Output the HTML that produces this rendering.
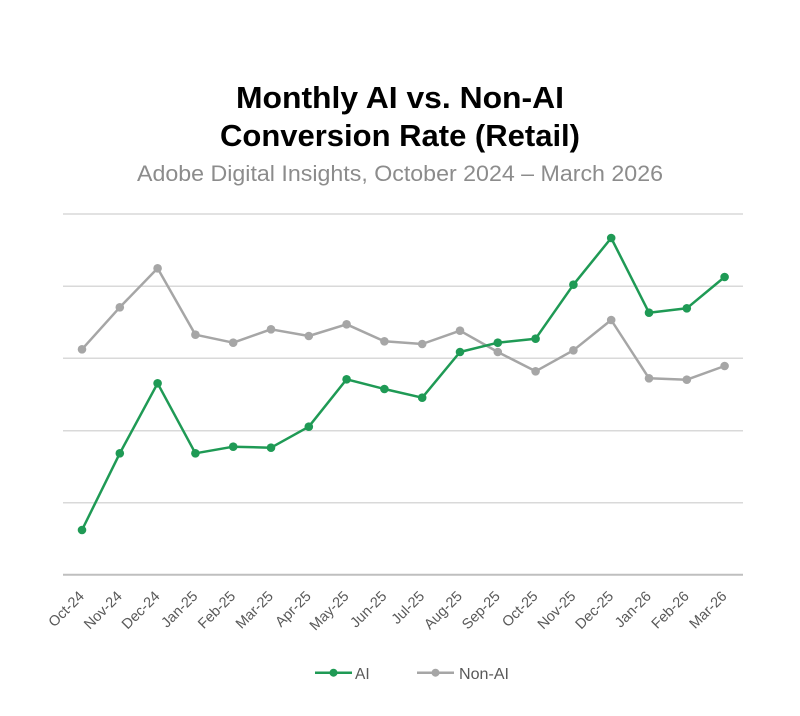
<!DOCTYPE html>
<html>
<head>
<meta charset="utf-8">
<style>
  html,body{margin:0;padding:0;background:#fff;}
  svg{display:block;}
  text{font-family:"Liberation Sans", sans-serif;}
</style>
</head>
<body>
<svg width="800" height="716" viewBox="0 0 800 716" xmlns="http://www.w3.org/2000/svg">
  <rect width="800" height="716" fill="#fff"/>
  <!-- Title -->
  <text x="400" y="108" text-anchor="middle" font-size="31" font-weight="bold" fill="#000" textLength="328" lengthAdjust="spacingAndGlyphs">Monthly AI vs. Non-AI</text>
  <text x="400" y="146" text-anchor="middle" font-size="31" font-weight="bold" fill="#000" textLength="360" lengthAdjust="spacingAndGlyphs">Conversion Rate (Retail)</text>
  <text x="400" y="181" text-anchor="middle" font-size="22" fill="#8c8c8c" textLength="526" lengthAdjust="spacingAndGlyphs">Adobe Digital Insights, October 2024 – March 2026</text>

  <!-- Gridlines -->
  <g stroke="#d9d9d9" stroke-width="1.5">
    <line x1="63" y1="214" x2="743" y2="214"/>
    <line x1="63" y1="286.3" x2="743" y2="286.3"/>
    <line x1="63" y1="358.3" x2="743" y2="358.3"/>
    <line x1="63" y1="430.7" x2="743" y2="430.7"/>
    <line x1="63" y1="502.7" x2="743" y2="502.7"/>
  </g>
  <line x1="63" y1="574.7" x2="743" y2="574.7" stroke="#bfbfbf" stroke-width="2"/>

  <!-- Non-AI series -->
  <polyline fill="none" stroke="#a6a6a6" stroke-width="2.5" stroke-linejoin="round"
    points="82,349.3 119.8,307.3 157.6,268.3 195.4,334.7 233.2,342.7 271,329.3 308.8,336 346.6,324.3 384.4,341.3 422.2,344 460,330.7 497.8,352 535.6,371.3 573.4,350.3 611.2,320 649,378.3 686.8,379.7 724.6,366"/>
  <g fill="#a6a6a6">
    <circle cx="82" cy="349.3" r="4.3"/><circle cx="119.8" cy="307.3" r="4.3"/><circle cx="157.6" cy="268.3" r="4.3"/>
    <circle cx="195.4" cy="334.7" r="4.3"/><circle cx="233.2" cy="342.7" r="4.3"/><circle cx="271" cy="329.3" r="4.3"/>
    <circle cx="308.8" cy="336" r="4.3"/><circle cx="346.6" cy="324.3" r="4.3"/><circle cx="384.4" cy="341.3" r="4.3"/>
    <circle cx="422.2" cy="344" r="4.3"/><circle cx="460" cy="330.7" r="4.3"/><circle cx="497.8" cy="352" r="4.3"/>
    <circle cx="535.6" cy="371.3" r="4.3"/><circle cx="573.4" cy="350.3" r="4.3"/><circle cx="611.2" cy="320" r="4.3"/>
    <circle cx="649" cy="378.3" r="4.3"/><circle cx="686.8" cy="379.7" r="4.3"/><circle cx="724.6" cy="366" r="4.3"/>
  </g>

  <!-- AI series -->
  <polyline fill="none" stroke="#1f9a55" stroke-width="2.5" stroke-linejoin="round"
    points="82,530 119.8,453.3 157.6,383.3 195.4,453.3 233.2,446.7 271,447.7 308.8,426.7 346.6,379.3 384.4,389 422.2,397.7 460,352 497.8,342.7 535.6,338.7 573.4,284.7 611.2,238 649,312.7 686.8,308.3 724.6,277"/>
  <g fill="#1f9a55">
    <circle cx="82" cy="530" r="4.3"/><circle cx="119.8" cy="453.3" r="4.3"/><circle cx="157.6" cy="383.3" r="4.3"/>
    <circle cx="195.4" cy="453.3" r="4.3"/><circle cx="233.2" cy="446.7" r="4.3"/><circle cx="271" cy="447.7" r="4.3"/>
    <circle cx="308.8" cy="426.7" r="4.3"/><circle cx="346.6" cy="379.3" r="4.3"/><circle cx="384.4" cy="389" r="4.3"/>
    <circle cx="422.2" cy="397.7" r="4.3"/><circle cx="460" cy="352" r="4.3"/><circle cx="497.8" cy="342.7" r="4.3"/>
    <circle cx="535.6" cy="338.7" r="4.3"/><circle cx="573.4" cy="284.7" r="4.3"/><circle cx="611.2" cy="238" r="4.3"/>
    <circle cx="649" cy="312.7" r="4.3"/><circle cx="686.8" cy="308.3" r="4.3"/><circle cx="724.6" cy="277" r="4.3"/>
  </g>

  <!-- X labels -->
  <g font-size="14.5" fill="#595959" text-anchor="end">
    <text transform="translate(85,597) rotate(-45)">Oct-24</text>
    <text transform="translate(122.8,597) rotate(-45)">Nov-24</text>
    <text transform="translate(160.6,597) rotate(-45)">Dec-24</text>
    <text transform="translate(198.4,597) rotate(-45)">Jan-25</text>
    <text transform="translate(236.2,597) rotate(-45)">Feb-25</text>
    <text transform="translate(274,597) rotate(-45)">Mar-25</text>
    <text transform="translate(311.8,597) rotate(-45)">Apr-25</text>
    <text transform="translate(349.6,597) rotate(-45)">May-25</text>
    <text transform="translate(387.4,597) rotate(-45)">Jun-25</text>
    <text transform="translate(425.2,597) rotate(-45)">Jul-25</text>
    <text transform="translate(463,597) rotate(-45)">Aug-25</text>
    <text transform="translate(500.8,597) rotate(-45)">Sep-25</text>
    <text transform="translate(538.6,597) rotate(-45)">Oct-25</text>
    <text transform="translate(576.4,597) rotate(-45)">Nov-25</text>
    <text transform="translate(614.2,597) rotate(-45)">Dec-25</text>
    <text transform="translate(652,597) rotate(-45)">Jan-26</text>
    <text transform="translate(689.8,597) rotate(-45)">Feb-26</text>
    <text transform="translate(727.6,597) rotate(-45)">Mar-26</text>
  </g>

  <!-- Legend -->
  <line x1="315" y1="672.7" x2="352" y2="672.7" stroke="#1f9a55" stroke-width="2.5"/>
  <circle cx="333.5" cy="672.7" r="4" fill="#1f9a55"/>
  <text x="355" y="679" font-size="15.5" fill="#595959">AI</text>
  <line x1="417" y1="672.7" x2="454" y2="672.7" stroke="#a6a6a6" stroke-width="2.5"/>
  <circle cx="435.5" cy="672.7" r="4" fill="#a6a6a6"/>
  <text x="459" y="679" font-size="15.5" fill="#595959" textLength="50" lengthAdjust="spacingAndGlyphs">Non-AI</text>
</svg>
</body>
</html>
